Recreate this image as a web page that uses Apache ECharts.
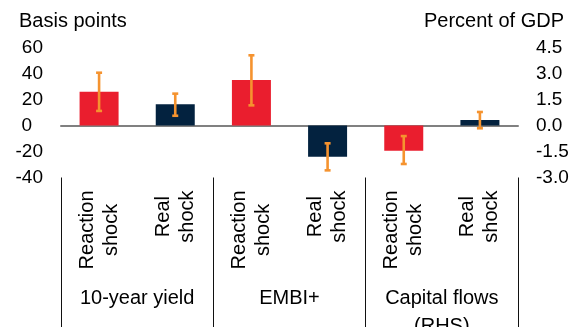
<!DOCTYPE html>
<html>
<head>
<meta charset="utf-8">
<script src="https://cdn.jsdelivr.net/npm/echarts@6/dist/echarts.min.js"></script>
<style>
  html, body { margin: 0; padding: 0; background: #fff; }
  #chart { width: 572px; height: 327px; }
</style>
</head>
<body>
<div id="chart"></div>
<script>
// Shock categories (two per indicator group)
const shocks = ['Reaction\nshock', 'Real\nshock', 'Reaction\nshock', 'Real\nshock', 'Reaction\nshock', 'Real\nshock'];
const groups = ['10-year yield', 'EMBI+', 'Capital flows\n(RHS)'];
const shockKind = ['reaction', 'real', 'reaction', 'real', 'reaction', 'real'];

// Yields and spreads, basis points (left axis)
const bpValues = [26, 16.3, 35, -24];
const bpLow    = [11.2, 7.5, 15.5, -34.5];
const bpHigh   = [40.6, 24.5, 54, -13.7];

// Capital flows, percent of GDP (right axis)
const gdpValues = [-1.45, 0.32];
const gdpLow    = [-2.22, -0.16];
const gdpHigh   = [-0.61, 0.78];

// Axis ticks
const leftTicks = [-40, -20, 0, 20, 40, 60];
const rightTicks = [-3.0, -1.5, 0.0, 1.5, 3.0, 4.5];

const RED = '#EA1E2E';
const NAVY = '#03223F';
const ORANGE = '#F5932F';
const FONT = "'Liberation Sans', Arial, Helvetica, sans-serif";

const colorOf = i => (shockKind[i] === 'reaction' ? RED : NAVY);

// Bars for the left axis occupy the first four slots, the right-axis bars the last two
const nLeft = bpValues.length;
const leftBarData = shocks.map((_, i) => i < nLeft
  ? { value: bpValues[i], itemStyle: { color: colorOf(i) } } : '-');
const rightBarData = shocks.map((_, i) => i >= nLeft
  ? { value: gdpValues[i - nLeft], itemStyle: { color: colorOf(i) } } : '-');

const leftErr = bpLow.map((lo, i) => [i, lo, bpHigh[i]]);
const rightErr = gdpLow.map((lo, i) => [i + nLeft, lo, gdpHigh[i]]);

function renderErrorBar(params, api) {
  const x = api.value(0);
  const p1 = api.coord([x, api.value(1)]);
  const p2 = api.coord([x, api.value(2)]);
  const cap = 3;
  const style = { stroke: ORANGE, lineWidth: 2.6, fill: null };
  return {
    type: 'group',
    children: [
      { type: 'line', shape: { x1: p1[0], y1: p1[1], x2: p2[0], y2: p2[1] }, style },
      { type: 'line', shape: { x1: p1[0] - cap, y1: p1[1], x2: p1[0] + cap, y2: p1[1] }, style },
      { type: 'line', shape: { x1: p2[0] - cap, y1: p2[1], x2: p2[0] + cap, y2: p2[1] }, style }
    ]
  };
}

const chart = echarts.init(document.getElementById('chart'), null, { renderer: 'canvas' });

const option = {
  animation: false,
  backgroundColor: '#fff',
  textStyle: { fontFamily: FONT },
  grid: { left: 61, right: 54, top: 47.5, bottom: 149.5, containLabel: false, outerBoundsMode: 'none' },
  graphic: [
    { type: 'text', x: 19, y: 21,
      style: { text: 'Basis points', font: '20px ' + FONT, fill: '#000', align: 'left', verticalAlign: 'middle' } },
    { type: 'text', x: 564, y: 21,
      style: { text: 'Percent of GDP', font: '20px ' + FONT, fill: '#000', align: 'right', verticalAlign: 'middle' } }
  ],
  xAxis: [
    { // bar axis, drawn as the zero line
      type: 'category', data: shocks, gridIndex: 0, position: 'bottom',
      axisLine: { show: true, onZero: true, onZeroAxisIndex: 0, lineStyle: { color: '#808080', width: 2 } },
      axisTick: { show: false }, axisLabel: { show: false }, splitLine: { show: false }
    },
    { // rotated shock labels
      type: 'category', data: shocks, gridIndex: 0, position: 'bottom',
      axisLine: { show: false, onZero: false }, axisTick: { show: false }, splitLine: { show: false },
      axisLabel: {
        interval: 0, rotate: 90, margin: 13, color: '#000', fontSize: 20, fontFamily: FONT,
        lineHeight: 24,
        formatter: v => v.split('\n').map(s => '{c|' + s + '}').join('\n'),
        rich: { c: { align: 'center', fontSize: 20, fontFamily: FONT, color: '#000', lineHeight: 24 } }
      }
    },
    { // indicator groups with separators
      type: 'category', data: groups, gridIndex: 0, position: 'bottom',
      axisLine: { show: false, onZero: false },
      axisTick: { show: true, interval: 0, length: 152, lineStyle: { color: '#111', width: 1 } },
      splitLine: { show: false },
      axisLabel: { interval: 0, margin: 107, color: '#000', fontSize: 20, fontFamily: FONT, lineHeight: 28 }
    }
  ],
  yAxis: [
    {
      type: 'value', position: 'left',
      min: leftTicks[0], max: leftTicks[leftTicks.length - 1], interval: 20,
      axisLine: { show: false }, axisTick: { show: false }, splitLine: { show: false },
      axisLabel: {
        margin: 18, color: '#000', fontSize: 19, fontFamily: FONT,
        formatter: v => (v === 0 ? '{z|0}' : String(v)),
        rich: { z: { fontSize: 19, fontFamily: FONT, color: '#000', padding: [0, 11, 0, 0] } }
      }
    },
    {
      type: 'value', position: 'right',
      min: rightTicks[0], max: rightTicks[rightTicks.length - 1], interval: 1.5,
      axisLine: { show: false }, axisTick: { show: false }, splitLine: { show: false },
      axisLabel: { margin: 18, color: '#000', fontSize: 19, fontFamily: FONT, formatter: v => v.toFixed(1) }
    }
  ],
  series: [
    { type: 'bar', xAxisIndex: 0, yAxisIndex: 0, data: leftBarData, barWidth: 39, barGap: '-100%', z: 2 },
    { type: 'bar', xAxisIndex: 0, yAxisIndex: 1, data: rightBarData, barWidth: 39, barGap: '-100%', z: 2 },
    { type: 'custom', xAxisIndex: 0, yAxisIndex: 0, data: leftErr, renderItem: renderErrorBar, z: 5,
      encode: { x: 0, y: [1, 2] } },
    { type: 'custom', xAxisIndex: 0, yAxisIndex: 1, data: rightErr, renderItem: renderErrorBar, z: 5,
      encode: { x: 0, y: [1, 2] } }
  ]
};

chart.setOption(option);
</script>
</body>
</html>
